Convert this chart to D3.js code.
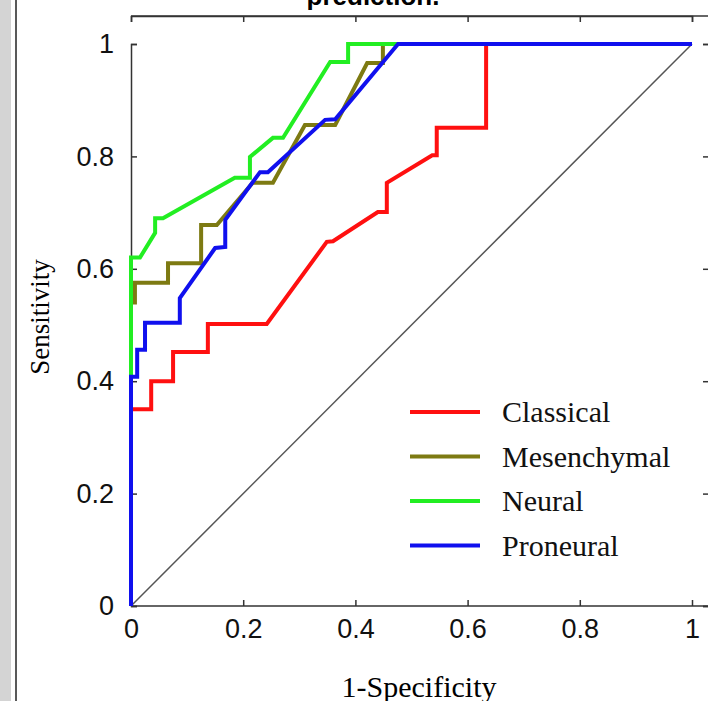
<!DOCTYPE html>
<html>
<head>
<meta charset="utf-8">
<script src="https://cdn.jsdelivr.net/npm/d3@7"></script>
<style>
  body { margin: 0; background: #fff; }
  svg { display: block; }
</style>
</head>
<body>
<div id="chart"></div>
<script>
// ROC curves: [1-specificity, sensitivity]
var classical = [[0,0],[0,0.35],[0.036,0.35],[0.036,0.40],[0.075,0.40],[0.075,0.452],[0.137,0.452],[0.137,0.502],
  [0.242,0.502],[0.349,0.648],[0.36,0.649],[0.44,0.701],[0.456,0.701],[0.456,0.753],[0.537,0.802],[0.545,0.802],
  [0.545,0.851],[0.633,0.851],[0.633,1],[1,1]];
var mesenchymal = [[0,0],[0,0.54],[0.007,0.54],[0.007,0.575],[0.066,0.575],[0.066,0.61],[0.125,0.61],[0.125,0.678],
  [0.153,0.678],[0.217,0.753],[0.253,0.753],[0.31,0.856],[0.364,0.856],[0.421,0.966],[0.449,0.966],[0.449,1],[1,1]];
var neural = [[0,0],[0,0.62],[0.016,0.62],[0.043,0.664],[0.043,0.69],[0.057,0.69],[0.185,0.762],[0.212,0.762],
  [0.212,0.799],[0.253,0.833],[0.271,0.833],[0.355,0.968],[0.387,0.968],[0.387,1],[1,1]];
var proneural = [[0,0],[0,0.408],[0.011,0.408],[0.011,0.456],[0.025,0.456],[0.025,0.504],[0.087,0.504],[0.087,0.548],
  [0.15,0.637],[0.168,0.639],[0.168,0.687],[0.23,0.772],[0.244,0.772],[0.346,0.865],[0.364,0.866],[0.476,1],[1,1]];

var seriesNames = ["Classical", "Mesenchymal", "Neural", "Proneural"];
var seriesColors = ["#ff1010", "#7d7a12", "#22ee22", "#1010ee"];
var seriesData = [classical, mesenchymal, neural, proneural];
var tickValues = [0, 0.2, 0.4, 0.6, 0.8, 1];

function drawChart() {
    var width = 708, height = 701;

    var svg = d3.select("#chart").append("svg")
        .attr("width", width)
        .attr("height", height);

    // page edge bits from the cropped figure
    svg.append("rect").attr("x", 0).attr("y", 0).attr("width", 11).attr("height", height).attr("fill", "#d4d4d4");
    svg.append("line").attr("x1", 16).attr("x2", 16).attr("y1", 0).attr("y2", height)
        .attr("stroke", "#222").attr("stroke-width", 1.5);

    var x = d3.scaleLinear().domain([0, 1]).range([131, 692]);
    var y = d3.scaleLinear().domain([0, 1]).range([606, 44]);

    // title, mostly cut off at the top
    svg.append("text").attr("x", 373).attr("y", 5)
        .attr("text-anchor", "middle")
        .style("font-family", "Liberation Sans, Arial, sans-serif")
        .style("font-weight", "bold").style("font-size", "26px")
        .text("prediction.");

    // box
    var boxRight = 710, boxTop = 16;
    svg.append("line").attr("x1", x(0)).attr("x2", boxRight).attr("y1", boxTop).attr("y2", boxTop)
        .attr("stroke", "#333").attr("stroke-width", 1.5);
    svg.append("line").attr("x1", boxRight - 1).attr("x2", boxRight - 1).attr("y1", boxTop).attr("y2", y(0))
        .attr("stroke", "#333").attr("stroke-width", 1.5);

    // axes with inward ticks
    var fmt = function(d) { return d === 0 || d === 1 ? d : d.toFixed(1); };
    var xAxis = svg.append("g").attr("transform", "translate(0," + y(0) + ")")
        .call(d3.axisBottom(x).tickValues(tickValues).tickSize(-6).tickPadding(13).tickFormat(fmt));
    var yAxis = svg.append("g").attr("transform", "translate(" + x(0) + ",0)")
        .call(d3.axisLeft(y).tickValues(tickValues).tickSize(-6).tickPadding(17).tickFormat(fmt));
    var xTop = svg.append("g").attr("transform", "translate(0," + boxTop + ")")
        .call(d3.axisTop(x).tickValues(tickValues).tickSize(-6).tickFormat(""));
    var yRight = svg.append("g").attr("transform", "translate(" + (boxRight - 1) + ",0)")
        .call(d3.axisRight(y).tickValues(tickValues).tickSize(-6).tickFormat(""));

    [xAxis, yAxis, xTop, yRight].forEach(function(g) {
        g.select(".domain").attr("stroke", "#333").attr("stroke-width", 1.5);
        g.selectAll(".tick line").attr("stroke", "#333").attr("stroke-width", 1.5);
        g.selectAll("text")
            .style("font-family", "Liberation Sans, Arial, sans-serif")
            .style("font-size", "27px")
            .attr("fill", "#111");
    });
    xAxis.select(".domain").attr("d", "M" + x(0) + ",0H" + boxRight);

    // chance diagonal
    svg.append("line")
        .attr("x1", x(0)).attr("y1", y(0)).attr("x2", x(1)).attr("y2", y(1))
        .attr("stroke", "#555").attr("stroke-width", 1.5);

    var line = d3.line()
        .x(function(d) { return x(d[0]); })
        .y(function(d) { return y(d[1]); });

    svg.selectAll("path.roc")
        .data(seriesData)
        .enter()
        .append("path")
        .attr("class", "roc")
        .attr("d", line)
        .attr("fill", "none")
        .attr("stroke", function(d, i) { return seriesColors[i]; })
        .attr("stroke-width", 4)
        .attr("stroke-linejoin", "miter");

    // axis titles
    svg.append("text")
        .attr("x", 419).attr("y", 697)
        .attr("text-anchor", "middle")
        .style("font-family", "Liberation Serif, Times New Roman, serif")
        .style("font-size", "30px")
        .text("1-Specificity");
    svg.append("text")
        .attr("transform", "translate(49,317) rotate(-90)")
        .attr("text-anchor", "middle")
        .style("font-family", "Liberation Serif, Times New Roman, serif")
        .style("font-size", "27px")
        .text("Sensitivity");

    // legend
    var legend = svg.selectAll("g.legend")
        .data(seriesNames)
        .enter()
        .append("g")
        .attr("class", "legend")
        .attr("transform", function(d, i) { return "translate(410," + (412 + i * 44.5) + ")"; });
    legend.append("line")
        .attr("x1", 0).attr("x2", 70).attr("y1", 0).attr("y2", 0)
        .attr("stroke", function(d, i) { return seriesColors[i]; })
        .attr("stroke-width", 4);
    legend.append("text")
        .attr("x", 92).attr("y", 10)
        .style("font-family", "Liberation Serif, Times New Roman, serif")
        .style("font-size", "30px")
        .attr("fill", "#111")
        .text(function(d) { return d; });
}

drawChart();
</script>
</body>
</html>
